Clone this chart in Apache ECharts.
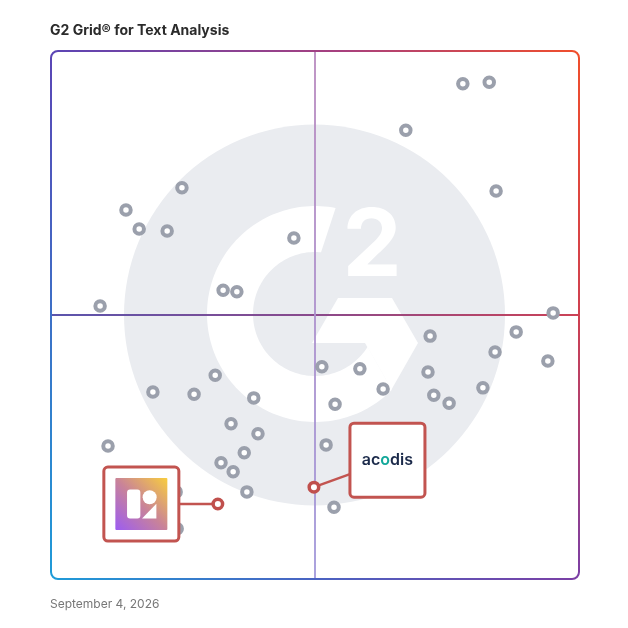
<!DOCTYPE html>
<html><head><meta charset="utf-8">
<script src="https://cdn.jsdelivr.net/npm/echarts@6/dist/echarts.min.js"></script>
<style>html,body{margin:0;padding:0;background:#fff}#c{width:628px;height:628px}</style>
</head><body><div id="c"></div>
<script>
const TITLE = 'G2 Grid® for Text Analysis';
const FOOTER = 'September 4, 2026';
// Vendor positions on a 0-100 scale (x: market presence-like axis, y: satisfaction-like axis)
const vendorX = [78.0, 83.0, 67.2, 84.3, 24.8, 14.2, 16.7, 22.0, 46.0, 32.6, 35.2, 9.3, 95.1, 88.1, 71.8, 84.1, 94.1, 51.3, 58.5, 71.4, 31.1, 62.9, 19.3, 27.1, 72.5, 81.8, 75.4, 38.4, 53.8, 34.1, 39.2, 52.1, 10.8, 36.6, 32.2, 34.5, 37.1, 53.6, 23.7, 23.9];
const vendorY = [93.8, 94.1, 85.0, 73.5, 74.1, 69.9, 66.3, 65.9, 64.6, 54.7, 54.4, 51.7, 50.4, 46.8, 46.0, 43.0, 41.3, 40.2, 39.8, 39.2, 38.6, 36.0, 35.4, 35.0, 34.8, 36.2, 33.3, 34.3, 33.1, 29.4, 27.5, 25.4, 25.2, 23.9, 22.0, 20.3, 16.5, 13.6, 16.5, 9.5];
const highlightNames = ['acodis', 'logo'];
const highlightX = [49.8, 31.6];
const highlightY = [17.4, 14.2];

const chart = echarts.init(document.getElementById('c'), null, {renderer: 'canvas'});
chart.setOption({
  animation: false,
  grid: {left: 51, top: 51, width: 528, height: 528},
  xAxis: {type: 'value', min: 0, max: 100, show: false},
  yAxis: {type: 'value', min: 0, max: 100, show: false},
  title: [
    {text: TITLE, left: 50, top: 24, padding: 0, textStyle: {fontFamily: 'Inter', fontSize: 14, fontWeight: 'bold', color: '#2b2b2b'}},
    {text: FOOTER, left: 50, top: 598, padding: 0, textStyle: {fontFamily: 'Inter', fontSize: 12, fontWeight: 'normal', color: '#777777'}}
  ],
  series: [
    {type: 'scatter', data: vendorX.map((x, i) => [x, vendorY[i]]), symbol: 'circle', symbolSize: 9.5,
     itemStyle: {color: '#ffffff', borderColor: '#9ba0ac', borderWidth: 4, opacity: 1}, z: 3, silent: true},
    {type: 'scatter', data: highlightX.map((x, i) => ({name: highlightNames[i], value: [x, highlightY[i]]})), symbol: 'circle', symbolSize: 9.5,
     itemStyle: {color: '#ffffff', borderColor: '#c0504d', borderWidth: 3.5, opacity: 1}, z: 4, silent: true}
  ]
});

const tl = chart.convertToPixel({gridIndex: 0}, [0, 100]);
const br = chart.convertToPixel({gridIndex: 0}, [100, 0]);
const ctr = chart.convertToPixel({gridIndex: 0}, [50, 50]);
const L = tl[0], T = tl[1], R = br[0], B = br[1], cx = ctr[0], cy = ctr[1];
const G = echarts.graphic.LinearGradient;
const els = [];

// Background G2 logo
const grey = '#eaecf0';
els.push({type: 'circle', z: 0, shape: {cx: cx - 0.5, cy: cy, r: 190.5}, style: {fill: grey}});
const ringC = [cx, cy - 1], Ro = 108, Ri = 62;
const deg = Math.PI / 180;
const ringPts = [];
for (let a = 79; a <= 315.4; a += 2) ringPts.push([ringC[0] + Ro * Math.cos(a * deg), ringC[1] - Ro * Math.sin(a * deg)]);
ringPts.push([ringC[0] + Ro * Math.cos(315.4 * deg), ringC[1] - Ro * Math.sin(315.4 * deg)]);
for (let a = 328; a >= 84.4; a -= 2) ringPts.push([ringC[0] + Ri * Math.cos(a * deg), ringC[1] - Ri * Math.sin(a * deg)]);
ringPts.push([ringC[0] + Ri * Math.cos(84.4 * deg), ringC[1] - Ri * Math.sin(84.4 * deg)]);
els.push({type: 'polygon', z: 0, shape: {points: ringPts}, style: {fill: '#ffffff'}});
const ch = [[23, -16], [77, -16], [103, 29], [76.5, 75.5], [50, 29], [-3, 29]].map(p => [ringC[0] + p[0], ringC[1] + p[1]]);
els.push({type: 'polygon', z: 0, shape: {points: ch}, style: {fill: '#ffffff'}});
els.push({type: 'text', z: 0, x: cx + 57, y: cy - 67, style: {text: '2', font: 'bold 94px Inter', fill: '#ffffff', align: 'center', verticalAlign: 'middle'}});

// Quadrant lines
els.push({type: 'line', z: 1, shape: {x1: L, y1: cy, x2: R, y2: cy},
  style: {lineWidth: 2, stroke: new G(L, 0, R, 0, [{offset: 0, color: '#5b55ad'}, {offset: 0.5, color: '#8a4a8c'}, {offset: 1, color: '#cc4256'}], true)}});
els.push({type: 'line', z: 1, shape: {x1: cx, y1: T, x2: cx, y2: B},
  style: {lineWidth: 1.8, stroke: new G(0, T, 0, B, [{offset: 0, color: '#b98abf'}, {offset: 1, color: '#a198da'}], true)}});

// Frame
const rr = 7, fw = 2;
const cTL = '#5b45b5', cTR = '#f04e2c', cBL = '#1f9bd8', cBR = '#7b3fa5';
els.push({type: 'line', z: 1, shape: {x1: L + rr, y1: T, x2: R - rr, y2: T}, style: {lineWidth: fw, stroke: new G(L, 0, R, 0, [{offset: 0, color: cTL}, {offset: 0.55, color: '#a8407e'}, {offset: 1, color: cTR}], true)}});
els.push({type: 'line', z: 1, shape: {x1: R, y1: T + rr, x2: R, y2: B - rr}, style: {lineWidth: fw, stroke: new G(0, T, 0, B, [{offset: 0, color: cTR}, {offset: 0.5, color: '#cf4050'}, {offset: 1, color: cBR}], true)}});
els.push({type: 'line', z: 1, shape: {x1: L + rr, y1: B, x2: R - rr, y2: B}, style: {lineWidth: fw, stroke: new G(L, 0, R, 0, [{offset: 0, color: cBL}, {offset: 0.5, color: '#4a63c2'}, {offset: 1, color: cBR}], true)}});
els.push({type: 'line', z: 1, shape: {x1: L, y1: T + rr, x2: L, y2: B - rr}, style: {lineWidth: fw, stroke: new G(0, T, 0, B, [{offset: 0, color: cTL}, {offset: 1, color: cBL}], true)}});
els.push({type: 'arc', z: 1, shape: {cx: L + rr, cy: T + rr, r: rr, startAngle: Math.PI, endAngle: 1.5 * Math.PI, clockwise: true}, style: {stroke: cTL, lineWidth: fw, fill: null}});
els.push({type: 'arc', z: 1, shape: {cx: R - rr, cy: T + rr, r: rr, startAngle: 1.5 * Math.PI, endAngle: 2 * Math.PI, clockwise: true}, style: {stroke: cTR, lineWidth: fw, fill: null}});
els.push({type: 'arc', z: 1, shape: {cx: R - rr, cy: B - rr, r: rr, startAngle: 0, endAngle: 0.5 * Math.PI, clockwise: true}, style: {stroke: cBR, lineWidth: fw, fill: null}});
els.push({type: 'arc', z: 1, shape: {cx: L + rr, cy: B - rr, r: rr, startAngle: 0.5 * Math.PI, endAngle: Math.PI, clockwise: true}, style: {stroke: cBL, lineWidth: fw, fill: null}});

// Callouts
const red = '#c25450';
const pA = chart.convertToPixel({gridIndex: 0}, [highlightX[0], highlightY[0]]);
const pB = chart.convertToPixel({gridIndex: 0}, [highlightX[1], highlightY[1]]);
const bw = 75, bh = 74;
// acodis box
const ax = pA[0] + 36, ay = pA[1] - 64;
els.push({type: 'line', z: 3, shape: {x1: pA[0], y1: pA[1], x2: ax, y2: pA[1] - 13}, style: {stroke: red, lineWidth: 2.5}});
els.push({type: 'rect', z: 10, shape: {x: ax, y: ay, width: bw, height: bh, r: 4}, style: {fill: '#ffffff', stroke: red, lineWidth: 3}});
els.push({type: 'text', z: 11, x: ax + bw / 2, y: ay + bh / 2, style: {
  text: '{a|ac}{o|o}{a|dis}', align: 'center', verticalAlign: 'middle',
  rich: {a: {fontFamily: 'Inter', fontSize: 16, fontWeight: 600, fill: '#1b2a4a', color: '#1b2a4a'}, o: {fontFamily: 'Inter', fontSize: 16, fontWeight: 600, fill: '#13a89a', color: '#13a89a'}}}});
// second box
const bx = pB[0] - 39 - bw, by = pB[1] - 37;
els.push({type: 'line', z: 3, shape: {x1: bx + bw, y1: pB[1], x2: pB[0], y2: pB[1]}, style: {stroke: red, lineWidth: 2.5}});
els.push({type: 'rect', z: 10, shape: {x: bx, y: by, width: bw, height: bh, r: 4}, style: {fill: '#ffffff', stroke: red, lineWidth: 3}});
const sqc = [bx + bw / 2, by + bh / 2], sq = 52;
els.push({type: 'rect', z: 11, shape: {x: sqc[0] - sq / 2, y: sqc[1] - sq / 2, width: sq, height: sq, r: 1},
  style: {fill: new G(1, 0, 0, 1, [{offset: 0, color: '#f8cd3e'}, {offset: 0.5, color: '#c98398'}, {offset: 1, color: '#9c5cf2'}])}});
els.push({type: 'rect', z: 12, shape: {x: sqc[0] - 14.3, y: sqc[1] - 14.5, width: 13.3, height: 29, r: 3}, style: {fill: '#ffffff'}});
els.push({type: 'circle', z: 12, shape: {cx: sqc[0] + 8.3, cy: sqc[1] - 6.8, r: 7}, style: {fill: '#ffffff'}});
els.push({type: 'polygon', z: 12, shape: {points: [[sqc[0] + 0.7, sqc[1] + 14.5], [sqc[0] + 15, sqc[1] + 14.5], [sqc[0] + 15, sqc[1] - 0.2]]}, style: {fill: '#ffffff'}});

chart.setOption({graphic: {elements: els}});
</script></body></html>
